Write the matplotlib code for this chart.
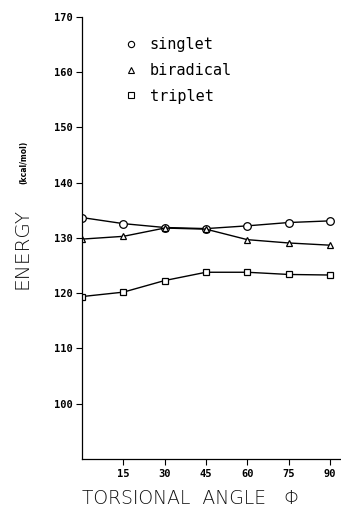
import matplotlib
matplotlib.use("Agg")
import matplotlib.pyplot as plt
from matplotlib.lines import Line2D

angles = [0, 15, 30, 45, 60, 75, 90]
singlet = [133.7, 132.6, 131.9, 131.7, 132.2, 132.8, 133.1]
biradical = [129.8, 130.3, 131.8, 131.6, 129.7, 129.1, 128.7]
triplet = [119.4, 120.2, 122.3, 123.8, 123.8, 123.4, 123.3]
xticks = [15, 30, 45, 60, 75, 90]
yticks = [100, 110, 120, 130, 140, 150, 160, 170]

fig = plt.figure(figsize=(3.41, 5.09), dpi=100)
ax = fig.add_axes([82/341, 50/509, 259/341, 442/509])
ax.set_xlim(0, 94)
ax.set_ylim(90, 170)

ax.plot(angles, singlet, color='black', lw=1.0, marker='o', ms=5.5, mfc='white', mec='black', mew=0.9)
ax.plot(angles, biradical, color='black', lw=1.0, marker='^', ms=4.5, mfc='white', mec='black', mew=0.9)
ax.plot(angles, triplet, color='black', lw=1.0, marker='s', ms=5, mfc='white', mec='black', mew=0.9)

for s in ['top', 'right']:
    ax.spines[s].set_visible(False)
for s in ['left', 'bottom']:
    ax.spines[s].set_linewidth(0.9)

ax.set_xticks(xticks)
ax.set_yticks(yticks)
ax.tick_params(axis='both', direction='out', length=4, width=0.8, labelsize=7.5, pad=3)
for lab in ax.get_xticklabels() + ax.get_yticklabels():
    lab.set_fontfamily('DejaVu Sans Mono')
    lab.set_fontweight('bold')

handles = [Line2D([], [], ls='none', marker='o', ms=4.5, mfc='white', mec='black', mew=0.8),
           Line2D([], [], ls='none', marker='^', ms=4, mfc='white', mec='black', mew=0.8),
           Line2D([], [], ls='none', marker='s', ms=4.5, mfc='white', mec='black', mew=0.8)]
leg = ax.legend(handles, ['singlet', 'biradical', 'triplet'], loc='upper left',
                bbox_to_anchor=(0.12, 0.985), frameon=False, handlelength=0.6,
                handletextpad=0.9, labelspacing=0.7,
                prop={'family': 'DejaVu Sans Mono', 'size': 11})

fig.text(22/341, 1 - 248/509, 'ENERGY', rotation=90, ha='center', va='center',
         fontsize=14.5, fontfamily='DejaVu Sans', fontweight='light', color='#111111')
fig.text(24/341, 1 - 162/509, '(kcal/mol)', rotation=90, ha='center', va='center',
         fontsize=5.5, fontfamily='DejaVu Sans', fontweight='bold')
fig.text(82/341, 1/509, 'TORSIONAL  ANGLE   Φ', ha='left', va='bottom',
         fontsize=13.5, fontfamily='DejaVu Sans', fontweight='light', color='#111111')

fig.savefig('out.png', dpi=100)
